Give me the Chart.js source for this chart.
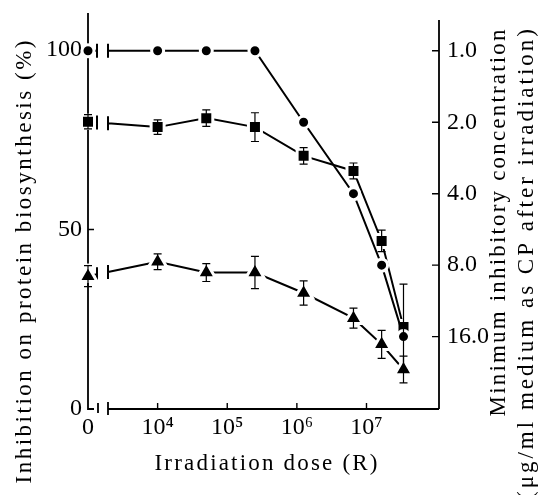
<!DOCTYPE html>
<html>
<head>
<meta charset="utf-8">
<script src="https://cdn.jsdelivr.net/npm/chart.js@4.4.1/dist/chart.umd.min.js"></script>
<style>
  html, body { margin: 0; padding: 0; background: #fff; }
</style>
</head>
<body>
<canvas id="myChart" width="539" height="495"></canvas>
<script>

// irradiation dose (R); the zero dose is put left of the axis break
var doses = [0, 1e4, 5e4, 2.5e5, 1.25e6, 6.5e6, 1.65e7, 3.4e7];
var zeroDoseAt = 1e3;

// minimum inhibitory concentration (ug/ml), right axis
var micValues = [1, 1, 1, 1, 2, 4, 8, 16];

// inhibition on protein biosynthesis (%), left axis
var inhibSquare = [80, 78.5, 81, 78.5, 70.5, 66.3, 46.8, 22.8];
var errSquare = [2, 2, 2.3, 4, 2.3, 2.2, 3, 12];
var inhibTriangle = [37, 41, 38, 38, 32.3, 25.3, 18, 11];
var errTriangle = [2.9, 2.2, 2.5, 4.5, 3.4, 2.8, 3.9, 3.7];

var xTicks = [0, 1e4, 1e5, 1e6, 1e7];
var xTickLabels = ['0', '10⁴', '10⁵', '10⁶', '10⁷'];
var leftTicks = [0, 50, 100];
var rightTicks = [1, 2, 4, 8, 16];
var rightTickLabels = ['1.0', '2.0', '4.0', '8.0', '16.0'];

var serif = "'Liberation Serif', 'DejaVu Serif', serif";

function toPoints(values) {
    return values.map(function (v, i) {
        return { x: doses[i] === 0 ? zeroDoseAt : doses[i], y: v };
    });
}

// first segment is drawn by hand, with the axis break in it
var hideFirst = {
    borderColor: function (c) { return c.p0DataIndex === 0 ? 'rgba(0,0,0,0)' : '#000'; }
};

function spacedText(ctx, text, cx, cy, angle, length) {
    ctx.save();
    ctx.translate(cx, cy);
    ctx.rotate(angle);
    ctx.textAlign = 'left';
    ctx.textBaseline = 'alphabetic';
    var chars = Array.from(text);
    var widths = chars.map(function (c) { return ctx.measureText(c).width; });
    var natural = widths.reduce(function (a, b) { return a + b; }, 0);
    var gap = (length - natural) / (chars.length - 1);
    var x = -length / 2;
    chars.forEach(function (c, i) {
        ctx.fillText(c, x, 0);
        x += widths[i] + gap;
    });
    ctx.restore();
}

var framePlugin = {
    id: 'frame',
    beforeDatasetsDraw: function (chart) {
        var ctx = chart.ctx;
        var a = chart.chartArea;
        var L = a.left, R = a.right, B = a.bottom;
        ctx.save();
        ctx.strokeStyle = '#000';
        ctx.lineWidth = 1.8;
        ctx.beginPath();
        // left axis with the little corner
        ctx.moveTo(L, a.top - 1);
        ctx.lineTo(L, B);
        ctx.lineTo(L + 6, B);
        // break bars
        ctx.moveTo(L + 10, B - 6);
        ctx.lineTo(L + 10, B + 4);
        ctx.moveTo(L + 20, B - 7);
        ctx.lineTo(L + 20, B + 6);
        // bottom axis
        ctx.moveTo(L + 20, B);
        ctx.lineTo(R, B);
        // right axis
        ctx.moveTo(R, a.top + 6);
        ctx.lineTo(R, B);
        ctx.stroke();

        // inward ticks
        ctx.lineWidth = 1.4;
        ctx.beginPath();
        var y = chart.scales.y, y2 = chart.scales.y2, x = chart.scales.x;
        leftTicks.forEach(function (v) {
            if (v === 0) return;
            var p = y.getPixelForValue(v);
            ctx.moveTo(L, p);
            ctx.lineTo(L + 6, p);
        });
        rightTicks.forEach(function (v) {
            var p = y2.getPixelForValue(v);
            ctx.moveTo(R, p);
            ctx.lineTo(R - 7, p);
        });
        xTicks.forEach(function (v) {
            if (v === 0) return;
            var p = x.getPixelForValue(v);
            ctx.moveTo(p, B);
            ctx.lineTo(p, B - 6);
        });
        ctx.stroke();

        // first line segment of each series, with the break
        ctx.lineWidth = 2;
        chart.data.datasets.forEach(function (ds, i) {
            var pts = chart.getDatasetMeta(i).data;
            var p0 = pts[0], p1 = pts[1];
            var yAt = function (px) { return p0.y + (p1.y - p0.y) * (px - p0.x) / (p1.x - p0.x); };
            var b1 = L + 9, b2 = L + 20;
            ctx.beginPath();
            ctx.moveTo(p0.x, p0.y);
            ctx.lineTo(b1, yAt(b1));
            ctx.moveTo(b1, yAt(b1) - 7);
            ctx.lineTo(b1, yAt(b1) + 7);
            ctx.moveTo(b2, yAt(b2) - 7);
            ctx.lineTo(b2, yAt(b2) + 7);
            ctx.moveTo(b2, yAt(b2));
            ctx.lineTo(p1.x, p1.y);
            ctx.stroke();
        });
        ctx.restore();
    },
    afterDatasetsDraw: function (chart) {
        var ctx = chart.ctx;
        var y = chart.scales.y;
        ctx.save();
        ctx.strokeStyle = '#000';
        ctx.lineWidth = 1.2;
        chart.data.datasets.forEach(function (ds, i) {
            if (!ds.errors) return;
            var pts = chart.getDatasetMeta(i).data;
            ds.errors.forEach(function (e, j) {
                var v = ds.data[j].y;
                var px = pts[j].x;
                var top = y.getPixelForValue(v + e);
                var bot = y.getPixelForValue(v - e);
                ctx.beginPath();
                ctx.moveTo(px, top);
                ctx.lineTo(px, bot);
                ctx.moveTo(px - 4, top);
                ctx.lineTo(px + 4, top);
                ctx.moveTo(px - 4, bot);
                ctx.lineTo(px + 4, bot);
                ctx.stroke();
            });
        });
        ctx.restore();
    },
    afterDraw: function (chart) {
        var ctx = chart.ctx;
        ctx.save();
        ctx.fillStyle = '#000';
        ctx.font = '23px ' + serif;
        spacedText(ctx, 'Inhibition on protein biosynthesis (%)', 31, 262, -Math.PI / 2, 443);
        spacedText(ctx, 'Irradiation dose (R)', 266, 470, 0, 223);
        spacedText(ctx, 'Minimum inhibitory concentration', 505, 223, -Math.PI / 2, 387);
        spacedText(ctx, '(μg/ml medium as CP after irradiation)', 533, 264, -Math.PI / 2, 470);
        ctx.restore();
    }
};

var chartId = document.getElementById('myChart').getContext('2d');

Chart.defaults.font.family = serif;
Chart.defaults.color = '#000';

var noGrid = { display: false, drawTicks: false, tickLength: 0 };

function fitVertical(width) {
    return function (s) {
        s.width = width;
        s.paddingTop = 0;
        s.paddingBottom = 0;
    };
}

var myChart = new Chart(chartId, {
    type: 'line',
    data: {
        datasets: [{
            label: 'MIC',
            data: toPoints(micValues),
            yAxisID: 'y2',
            borderColor: '#000',
            borderWidth: 2,
            pointStyle: 'circle',
            pointRadius: 6,
            pointBackgroundColor: '#000',
            pointBorderColor: '#fff',
            pointBorderWidth: 3,
            segment: hideFirst,
            clip: false
        }, {
            label: 'Inhibition (square)',
            data: toPoints(inhibSquare),
            errors: errSquare,
            yAxisID: 'y',
            borderColor: '#000',
            borderWidth: 2,
            pointStyle: 'rect',
            pointRadius: 9.2,
            pointBackgroundColor: '#000',
            pointBorderColor: '#fff',
            pointBorderWidth: 3,
            segment: hideFirst,
            clip: false
        }, {
            label: 'Inhibition (triangle)',
            data: toPoints(inhibTriangle),
            errors: errTriangle,
            yAxisID: 'y',
            borderColor: '#000',
            borderWidth: 2,
            pointStyle: 'triangle',
            pointRadius: 10.5,
            pointBackgroundColor: '#000',
            pointBorderColor: '#fff',
            pointBorderWidth: 3,
            segment: hideFirst,
            clip: false
        }]
    },
    options: {
        responsive: false,
        animation: false,
        layout: { padding: { top: 14, left: 0, right: 0, bottom: 0 } },
        plugins: {
            legend: { display: false },
            tooltip: { enabled: false }
        },
        scales: {
            x: {
                type: 'logarithmic',
                min: 1e3,
                max: 1.1e8,
                grid: noGrid,
                border: { display: false },
                afterBuildTicks: function (s) {
                    s.ticks = xTicks.map(function (v) { return { value: v === 0 ? zeroDoseAt : v }; });
                },
                afterFit: function (s) {
                    s.height = 86;
                    s.paddingLeft = 0;
                    s.paddingRight = 0;
                },
                ticks: {
                    autoSkip: false,
                    maxRotation: 0,
                    padding: 4,
                    font: { size: 24 },
                    callback: function (v, i) { return xTickLabels[i]; }
                }
            },
            y: {
                type: 'linear',
                position: 'left',
                min: 0,
                max: 110,
                grid: noGrid,
                border: { display: false },
                afterBuildTicks: function (s) {
                    s.ticks = leftTicks.map(function (v) { return { value: v }; });
                },
                afterFit: fitVertical(88),
                ticks: {
                    padding: 6,
                    font: { size: 24 }
                }
            },
            y2: {
                type: 'logarithmic',
                position: 'right',
                reverse: true,
                min: 0.72,
                max: 32.3,
                grid: noGrid,
                border: { display: false },
                afterBuildTicks: function (s) {
                    s.ticks = rightTicks.map(function (v) { return { value: v }; });
                },
                afterFit: fitVertical(100),
                ticks: {
                    padding: 8,
                    font: { size: 24 },
                    callback: function (v, i) { return rightTickLabels[i]; }
                }
            }
        }
    },
    plugins: [framePlugin]
});
</script>
</body>
</html>
